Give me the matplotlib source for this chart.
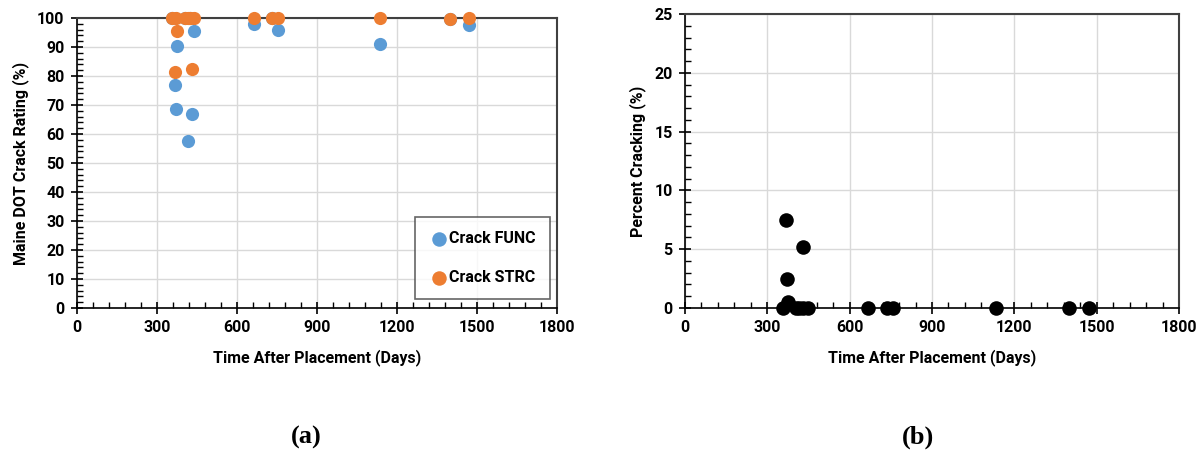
import numpy as np
import matplotlib.pyplot as plt
from matplotlib.ticker import MultipleLocator

# data
func_days = [356, 367, 371, 375, 405, 416, 424, 431, 439, 664, 731, 754, 1135, 1398, 1470]
func_rating = [100, 77, 68.5, 90.5, 100, 57.5, 100, 67, 95.5, 98, 100, 96, 91, 99.5, 97.5]

strc_days = [356, 367, 371, 375, 405, 416, 424, 431, 439, 664, 731, 754, 1135, 1398, 1470]
strc_rating = [100, 81.5, 100, 95.5, 100, 100, 100, 82.5, 100, 100, 100, 100, 100, 99.5, 100]

crack_days = [356, 367, 371, 375, 405, 416, 429, 431, 447, 667, 735, 759, 1135, 1398, 1472]
crack_pct = [0, 7.5, 2.5, 0.5, 0, 0, 0, 5.2, 0, 0, 0, 0, 0, 0, 0]

BLUE = '#5b9bd5'
ORANGE = '#ed7d31'

plt.rcParams['font.family'] = ['Roboto', 'DejaVu Sans']
plt.rcParams['font.weight'] = 'bold'

fig = plt.figure(figsize=(12.03, 4.55), dpi=100)
W, H = 1203, 455
ax1 = fig.add_axes([77 / W, 1 - 308 / H, 480 / W, 290 / H])
ax2 = fig.add_axes([685 / W, 1 - 308 / H, 494 / W, 294 / H])

FS = 11.5


def style(ax, ymax, ymajor, yminor):
    ax.set_xlim(0, 1800)
    ax.set_ylim(0, ymax)
    ax.xaxis.set_major_locator(MultipleLocator(300))
    ax.xaxis.set_minor_locator(MultipleLocator(60))
    ax.yaxis.set_major_locator(MultipleLocator(ymajor))
    ax.yaxis.set_minor_locator(MultipleLocator(yminor))
    ax.grid(True, which='major', color='#d9d9d9', linewidth=1)
    ax.set_axisbelow(True)
    for s in ['top', 'right']:
        ax.spines[s].set_color('#404040')
        ax.spines[s].set_linewidth(1.5)
    for s in ['left', 'bottom']:
        ax.spines[s].set_color('black')
        ax.spines[s].set_linewidth(1.2)
    ax.tick_params(which='major', direction='inout', length=8, width=1.2, labelsize=FS, pad=5)
    ax.tick_params(which='minor', direction='in', length=4, width=1)
    ax.tick_params(top=False, right=False, which='both')
    for lbl in ax.get_xticklabels() + ax.get_yticklabels():
        lbl.set_fontweight('bold')


style(ax1, 100, 10, 2)
ax1.scatter(func_days, func_rating, s=90, color=BLUE, label='Crack FUNC', clip_on=False, zorder=3, linewidths=0)
ax1.scatter(strc_days, strc_rating, s=90, color=ORANGE, label='Crack STRC', clip_on=False, zorder=4, linewidths=0)
ax1.set_xlabel('Time After Placement (Days)', fontsize=FS, fontweight='bold', labelpad=10)
ax1.set_ylabel('Maine DOT Crack Rating (%)', fontsize=FS, fontweight='bold', labelpad=6)
leg = ax1.legend(loc='lower right', bbox_to_anchor=(0.985, 0.03), fontsize=FS, frameon=True,
                 fancybox=False, edgecolor='#404040', handletextpad=0.0, labelspacing=1.5,
                 borderpad=0.9, markerscale=1.1, handlelength=1.2, borderaxespad=0)
leg.get_frame().set_linewidth(1.2)
for t in leg.get_texts():
    t.set_fontweight('bold')

style(ax2, 25, 5, 1)
ax2.scatter(crack_days, crack_pct, s=110, color='black', clip_on=False, zorder=3, linewidths=0)
ax2.set_xlabel('Time After Placement (Days)', fontsize=FS, fontweight='bold', labelpad=10)
ax2.set_ylabel('Percent Cracking (%)', fontsize=FS, fontweight='bold', labelpad=6)

fig.text(306 / W, 1 - 437 / H, '(a)', fontsize=19, fontweight='bold',
         family='Liberation Serif', ha='center', va='center')
fig.text(918 / W, 1 - 437 / H, '(b)', fontsize=19, fontweight='bold',
         family='Liberation Serif', ha='center', va='center')

fig.savefig('out.png', dpi=100)
